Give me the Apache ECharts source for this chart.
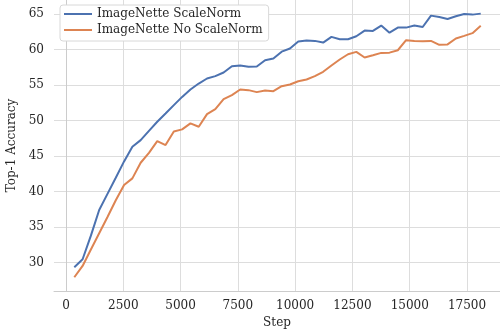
<!DOCTYPE html>
<html><head><meta charset="utf-8">
<script src="https://cdn.jsdelivr.net/npm/echarts@6/dist/echarts.min.js"></script>
<style>html,body{margin:0;padding:0;background:#fff}#c{width:500px;height:330px}</style>
</head><body><div id="c"></div>
<script>
const steps = [362,724,1086,1448,1810,2172,2534,2896,3258,3620,3982,4344,4706,5068,5430,5792,6154,6516,6878,7240,7602,7964,8326,8688,9050,9412,9774,10136,10498,10860,11222,11584,11946,12308,12670,13032,13394,13756,14118,14480,14842,15204,15566,15928,16290,16652,17014,17376,17738,18100];
const scaleNorm = [29.35,30.47,33.8,37.41,39.69,41.96,44.26,46.32,47.26,48.57,49.84,51.01,52.19,53.35,54.39,55.23,55.94,56.27,56.78,57.67,57.77,57.58,57.63,58.52,58.76,59.72,60.16,61.15,61.29,61.24,61.0,61.8,61.47,61.47,61.89,62.69,62.64,63.4,62.39,63.11,63.11,63.4,63.2,64.8,64.6,64.33,64.7,65.03,64.94,65.08];
const noScaleNorm = [27.94,29.53,31.85,34.14,36.43,38.78,40.93,41.87,44.07,45.47,47.12,46.56,48.48,48.77,49.61,49.14,50.92,51.62,53.03,53.59,54.39,54.3,54.02,54.25,54.16,54.86,55.1,55.56,55.8,56.27,56.88,57.77,58.62,59.36,59.69,58.9,59.22,59.55,59.58,59.92,61.34,61.24,61.2,61.24,60.68,60.74,61.58,61.95,62.33,63.36];
const xTicks = [0,2500,5000,7500,10000,12500,15000,17500];
const yTicks = [30,35,40,45,50,55,60,65];
const seriesNames = ['ImageNette ScaleNorm','ImageNette No ScaleNorm'];

const font = 'DejaVu Serif';
const txt = '#262626';
const fs = 12;
const chart = echarts.init(document.getElementById('c'));
const mk = (name, vals, color) => ({
  name, type: 'line', data: steps.map((s, i) => [s, vals[i]]),
  showSymbol: false, symbol: 'none', lineStyle: {color, width: 2}, itemStyle: {color},
  clip: false, animation: false
});
chart.setOption({
  animation: false,
  grid: {left: 54, right: 0, top: 0, bottom: 39, outerBoundsMode: 'none', containLabel: false},
  legend: {
    orient: 'vertical', left: 60, top: 5, icon: 'rect', itemWidth: 28, itemHeight: 2,
    itemGap: 4, padding: [3, 6, 5, 4], backgroundColor: '#fff', borderColor: '#d8d8d8',
    borderWidth: 1, borderRadius: 3,
    textStyle: {fontFamily: font, fontSize: fs, color: txt},
    data: seriesNames
  },
  xAxis: {
    type: 'value', min: -524, max: 18940,
    name: 'Step', nameLocation: 'middle', nameGap: 24,
    nameTextStyle: {fontFamily: font, fontSize: fs, color: txt},
    axisLine: {show: true, lineStyle: {color: '#cccccc', width: 1}},
    axisTick: {show: false, customValues: xTicks},
    axisLabel: {customValues: xTicks, formatter: v => String(v), fontFamily: font, fontSize: fs, color: txt, margin: 9},
    splitLine: {show: true, lineStyle: {color: '#dddddd', width: 1}}
  },
  yAxis: {
    type: 'value', min: 26, max: 67,
    name: 'Top-1 Accuracy', nameLocation: 'middle', nameGap: 30, nameRotate: 90,
    nameTextStyle: {fontFamily: font, fontSize: fs, color: txt},
    axisLine: {show: true, lineStyle: {color: '#cccccc', width: 1}},
    axisTick: {show: false, customValues: yTicks},
    axisLabel: {customValues: yTicks, formatter: v => String(v), fontFamily: font, fontSize: fs, color: txt, margin: 10},
    splitLine: {show: true, lineStyle: {color: '#dddddd', width: 1}}
  },
  series: [mk(seriesNames[0], scaleNorm, '#4C72B0'), mk(seriesNames[1], noScaleNorm, '#DD8452')]
});
</script></body></html>
